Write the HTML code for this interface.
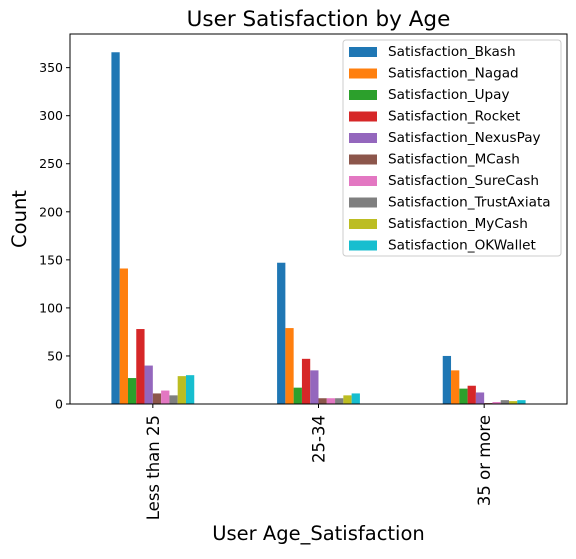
<!DOCTYPE html>
<html><head><meta charset="utf-8"><style>
body{margin:0;background:#fff;font-family:"DejaVu Sans","Liberation Sans",sans-serif}
svg text{font-family:"DejaVu Sans","Liberation Sans",sans-serif}
</style></head><body>
<svg id="c" width="576" height="555" xmlns="http://www.w3.org/2000/svg"></svg>
<script>
const categories=["Less than 25","25-34","35 or more"];
const seriesNames=["Satisfaction_Bkash","Satisfaction_Nagad","Satisfaction_Upay","Satisfaction_Rocket","Satisfaction_NexusPay","Satisfaction_MCash","Satisfaction_SureCash","Satisfaction_TrustAxiata","Satisfaction_MyCash","Satisfaction_OKWallet"];
const bkash=[366,147,50];
const nagad=[141,79,35];
const upay=[27,17,16];
const rocket=[78,47,19];
const nexuspay=[40,35,12];
const mcash=[11,6,1];
const surecash=[14,6,2];
const trustaxiata=[9,6,4];
const mycash=[29,9,3];
const okwallet=[30,11,4];
const yTicks=[0,50,100,150,200,250,300,350];
const series=[bkash,nagad,upay,rocket,nexuspay,mcash,surecash,trustaxiata,mycash,okwallet];
const colors=["#1f77b4","#ff7f0e","#2ca02c","#d62728","#9467bd","#8c564b","#e377c2","#7f7f7f","#bcbd22","#17becf"];
const L=70,R=567,T=34,B=404,ymax=385;
const svg=document.getElementById('c');
const NS="http://www.w3.org/2000/svg";
function y(v){return B-v*(B-T)/ymax;}
const band=(R-L)/categories.length;
function xc(i){return L+band*(i+0.5);}
function mk(t,a,p){const e=document.createElementNS(NS,t);for(const k in a)e.setAttribute(k,a[k]);(p||svg).appendChild(e);return e;}
const title=mk('text',{x:(L+R)/2,y:26,'text-anchor':'middle','font-size':21.5,fill:'#000'});title.textContent="User Satisfaction by Age";


const bw=band*0.5/series.length;
series.forEach((s,j)=>{s.forEach((v,i)=>{
 const x0=xc(i)-band*0.25+j*bw;
 const r=mk('rect',{x:x0,y:y(v),width:bw,height:B-y(v),fill:colors[j]});
 
 
});});
mk('rect',{x:L,y:T,width:R-L,height:B-T,fill:'none',stroke:'#000','stroke-width':1});
yTicks.forEach(t=>{
 mk('line',{x1:L-4,x2:L,y1:y(t),y2:y(t),stroke:'#000'});
 const tx=mk('text',{x:L-7,y:y(t)+4.5,'text-anchor':'end','font-size':12.5});tx.textContent=t;
 
 
});
categories.forEach((c,i)=>{
 mk('line',{x1:xc(i),x2:xc(i),y1:B,y2:B+4,stroke:'#000'});
 const tx=mk('text',{x:0,y:0,'text-anchor':'end','font-size':16.5,transform:`translate(${xc(i)+6},${B+11}) rotate(-90)`});tx.textContent=c;
 
 
});
const yl=mk('text',{x:0,y:0,'text-anchor':'middle','font-size':19.5,transform:`translate(26,${(T+B)/2}) rotate(-90)`});yl.textContent="Count";


const xl=mk('text',{x:(L+R)/2,y:540,'text-anchor':'middle','font-size':19.5});xl.textContent="User Age_Satisfaction";


const lg=mk('g',{});


mk('rect',{x:343,y:40,width:218,height:216,rx:3,fill:'#fff',stroke:'#ccc'},lg);
seriesNames.forEach((n,j)=>{
 const yy=51+j*21.5;
 mk('rect',{x:349,y:yy-4,width:28,height:10,fill:colors[j]},lg);
 const t=mk('text',{x:388,y:yy+5,'font-size':13.6},lg);t.textContent=n;
 
 
});
</script>
</body></html>
